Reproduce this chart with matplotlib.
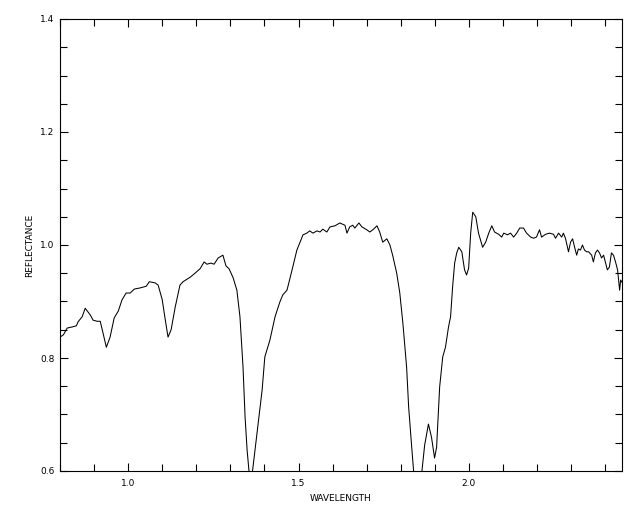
import matplotlib
matplotlib.use('Agg')
import matplotlib.pyplot as plt
from matplotlib.ticker import MultipleLocator, FormatStrFormatter

# spectrum (wavelength in microns)
wavelength = [
    0.800, 0.810, 0.821, 0.836, 0.848, 0.853, 0.865, 0.874, 0.889, 0.897,
    0.909, 0.918, 0.924, 0.936, 0.947, 0.959, 0.971, 0.982, 0.994, 1.006,
    1.018, 1.035, 1.053, 1.062, 1.079, 1.088, 1.100, 1.108, 1.117, 1.126,
    1.138, 1.152, 1.161, 1.182, 1.196, 1.211, 1.223, 1.231, 1.243, 1.252,
    1.264, 1.278, 1.287, 1.296, 1.308, 1.319, 1.328, 1.337, 1.343, 1.349,
    1.359, 1.378, 1.393, 1.401, 1.416, 1.431, 1.445, 1.454, 1.466, 1.481,
    1.495, 1.513, 1.524, 1.533, 1.542, 1.554, 1.563, 1.571, 1.583, 1.592,
    1.607, 1.621, 1.636, 1.642, 1.650, 1.659, 1.665, 1.677, 1.686, 1.700,
    1.709, 1.718, 1.730, 1.738, 1.747, 1.759, 1.768, 1.776, 1.788, 1.797,
    1.806, 1.817, 1.823, 1.832, 1.848, 1.870, 1.881, 1.890, 1.899, 1.905,
    1.914, 1.923, 1.931, 1.940, 1.946, 1.952, 1.958, 1.964, 1.970, 1.979,
    1.987, 1.993, 1.999, 2.005, 2.011, 2.020, 2.028, 2.040, 2.049, 2.058,
    2.067, 2.075, 2.087, 2.096, 2.102, 2.113, 2.122, 2.131, 2.140, 2.149,
    2.160, 2.169, 2.181, 2.190, 2.198, 2.207, 2.213, 2.225, 2.236, 2.248,
    2.254, 2.263, 2.272, 2.277, 2.283, 2.286, 2.292, 2.298, 2.304, 2.310,
    2.316, 2.321, 2.327, 2.333, 2.339, 2.345, 2.351, 2.360, 2.365, 2.371,
    2.377, 2.383, 2.389, 2.395, 2.401, 2.406, 2.412, 2.418, 2.424, 2.430,
    2.436, 2.442, 2.445, 2.449,
]
reflectance = [
    0.837, 0.841, 0.853, 0.855, 0.857, 0.864, 0.873, 0.888, 0.876, 0.867,
    0.865, 0.865, 0.850, 0.819, 0.837, 0.871, 0.883, 0.903, 0.915, 0.915,
    0.922, 0.924, 0.927, 0.935, 0.933, 0.929, 0.903, 0.871, 0.837, 0.850,
    0.890, 0.929, 0.935, 0.943, 0.950, 0.958, 0.970, 0.966, 0.968, 0.966,
    0.977, 0.982, 0.963, 0.958, 0.942, 0.920, 0.873, 0.784, 0.696, 0.637,
    0.570, 0.667, 0.743, 0.802, 0.832, 0.873, 0.899, 0.912, 0.920, 0.956,
    0.991, 1.018, 1.021, 1.025, 1.021, 1.025, 1.023, 1.028, 1.023, 1.032,
    1.034, 1.039, 1.035, 1.021, 1.032, 1.035, 1.030, 1.039, 1.032, 1.027,
    1.023, 1.027, 1.034, 1.023, 1.005, 1.011, 1.000, 0.982, 0.950, 0.915,
    0.862, 0.784, 0.713, 0.642, 0.520, 0.646, 0.683, 0.660, 0.623, 0.642,
    0.749, 0.802, 0.819, 0.855, 0.873, 0.926, 0.968, 0.986, 0.996, 0.988,
    0.956, 0.947, 0.959, 1.021, 1.058, 1.050, 1.021, 0.996, 1.005, 1.021,
    1.034, 1.023, 1.019, 1.014, 1.021, 1.018, 1.021, 1.014, 1.021, 1.030,
    1.030, 1.021, 1.014, 1.012, 1.014, 1.027, 1.014, 1.019, 1.021, 1.019,
    1.012, 1.021, 1.014, 1.021, 1.012, 1.004, 0.988, 1.005, 1.011, 0.996,
    0.982, 0.993, 0.991, 1.000, 0.991, 0.988, 0.988, 0.982, 0.970, 0.986,
    0.991, 0.986, 0.977, 0.982, 0.968, 0.956, 0.961, 0.986, 0.982, 0.970,
    0.956, 0.920, 0.938, 0.934,
]

plt.rcParams['font.family'] = 'DejaVu Sans'
plt.rcParams['font.size'] = 6.5

fig = plt.figure(figsize=(6.4, 5.12), dpi=100)
ax = fig.add_axes([60/640, 41/512, 562/640, 452/512])

ax.plot(wavelength, reflectance, color='k', lw=0.75)

ax.set_xlim(0.8, 2.449)
ax.set_ylim(0.6, 1.4)

ax.xaxis.set_major_locator(MultipleLocator(0.5))
ax.xaxis.set_minor_locator(MultipleLocator(0.1))
ax.yaxis.set_major_locator(MultipleLocator(0.2))
ax.yaxis.set_minor_locator(MultipleLocator(0.05))
ax.xaxis.set_major_formatter(FormatStrFormatter('%.1f'))
ax.yaxis.set_major_formatter(FormatStrFormatter('%.1f'))

ax.tick_params(which='both', direction='in', top=True, right=True, width=0.8)
ax.tick_params(which='major', length=6)
ax.tick_params(which='minor', length=5)
ax.tick_params(axis='x', pad=6)
ax.tick_params(axis='y', pad=4)
for s in ax.spines.values():
    s.set_linewidth(0.8)

ax.set_xlabel('WAVELENGTH', labelpad=4)
ax.set_ylabel('REFLECTANCE', labelpad=4)

fig.savefig('out.png', dpi=100)
